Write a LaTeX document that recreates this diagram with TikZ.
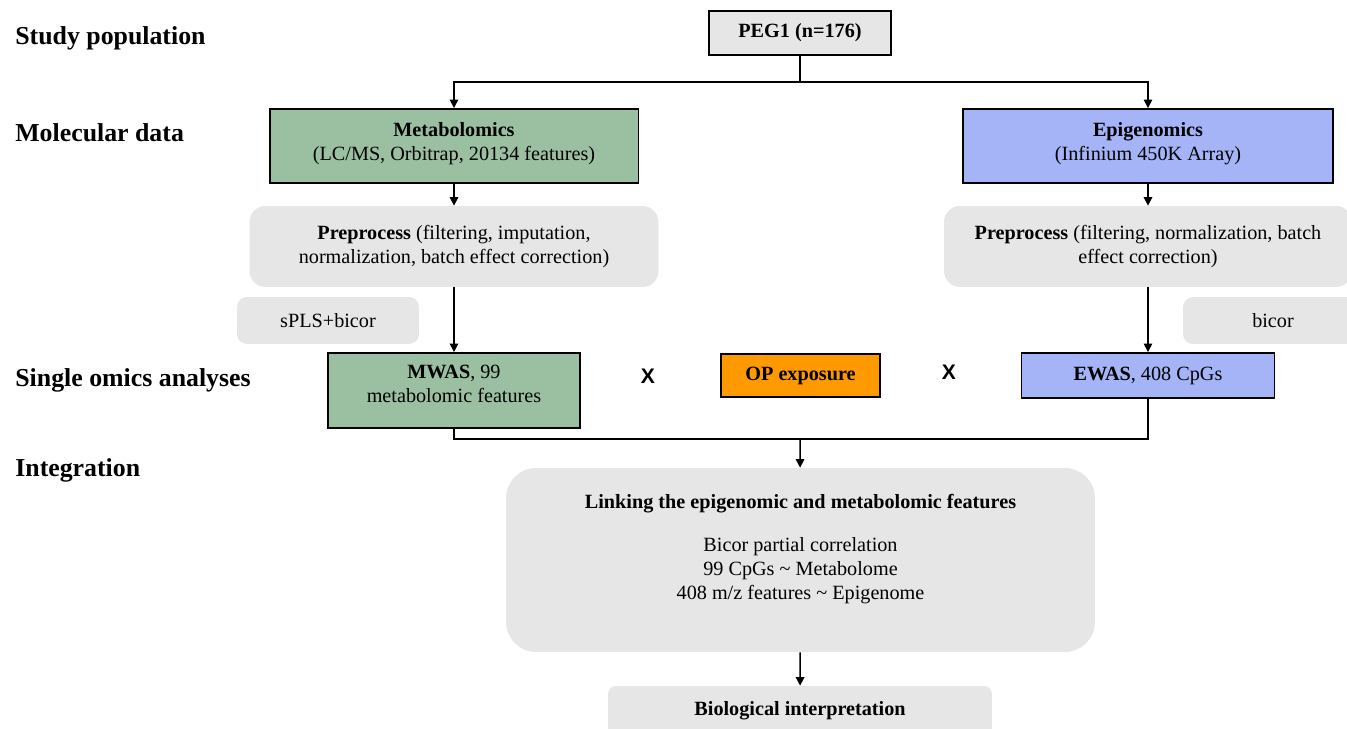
\documentclass[tikz,border=0pt]{standalone}
\usepackage{fontspec}
\setmainfont{Liberation Serif}
\newfontfamily\crossfont{Liberation Sans}
\usepackage{tikz}
\usetikzlibrary{positioning, arrows.meta}
\usepackage{xcolor}
\definecolor{metagreen}{RGB}{155,191,161}
\definecolor{epiblue}{RGB}{164,180,247}
\definecolor{oporange}{RGB}{255,153,0}
\definecolor{boxgray}{RGB}{230,230,230}

\begin{document}
\begin{tikzpicture}[
    x=0.02cm, y=-0.02cm,
    every node/.style={font=\fontsize{11.5}{13.7}\selectfont},
    stage/.style={anchor=west, inner sep=0pt, font=\fontsize{14.7}{17}\selectfont\bfseries},
    databox/.style={draw, line width=1.1pt, align=center, inner sep=2pt},
    softbox/.style={fill=boxgray, rounded corners=0.32cm, align=center, inner sep=2pt},
    cross/.style={inner sep=0pt, font=\fontsize{12}{14}\selectfont\crossfont\bfseries},
    wire/.style={line width=0.85pt},
    arr/.style={wire, -{Triangle[length=4.8pt, width=4.8pt]}},
]

\clip (0,0) rectangle (1347,729);

% --- Stage labels on the left ---------------------------------------
\node[stage] (studypop)  at (15,38)  {Study population};
\node[stage] (moldata)   at (15,133) {Molecular data};
\node[stage] (single)    at (15,380) {Single omics analyses};
\node[stage] (integr)    at (15,470) {Integration};

% --- Study population -----------------------------------------------
\node[databox, fill=boxgray, minimum width=3.64cm, minimum height=0.88cm]
    (peg) at (800,33) {\bfseries PEG1 (n=176)};

% --- Molecular data --------------------------------------------------
\node[databox, fill=metagreen, minimum width=7.38cm, minimum height=1.48cm]
    (metab) at (454,146) {\textbf{Metabolomics}\\(LC/MS, Orbitrap, 20134 features)\\[-9pt]\mbox{}};
\node[databox, fill=epiblue, minimum width=7.4cm, minimum height=1.48cm]
    (epig) at (1148,146) {\textbf{Epigenomics}\\(Infinium 450K Array)\\[-9pt]\mbox{}};

% --- Preprocessing ---------------------------------------------------
\node[softbox, minimum width=8.18cm, minimum height=1.62cm]
    (prepL) at (454,246.5) {\textbf{Preprocess} (filtering, imputation,\\normalization, batch effect correction)};
\node[softbox, minimum width=8.16cm, minimum height=1.62cm]
    (prepR) at (1148,246.5) {\textbf{Preprocess} (filtering, normalization, batch\\effect correction)};

% Methods for the single omics step
\node[softbox, rounded corners=0.2cm, minimum width=3.64cm, minimum height=0.94cm]
    (spls) at (328,320.5) {sPLS+bicor};
\node[softbox, rounded corners=0.2cm, minimum width=3.6cm, minimum height=0.94cm]
    (bicor) at (1273,320.5) {bicor};

% --- Single omics analyses ------------------------------------------
\node[databox, fill=metagreen, minimum width=5.04cm, minimum height=1.5cm]
    (mwas) at (454,390.5) {\textbf{MWAS}, 99\\metabolomic features\\[-6.5pt]\mbox{}};
\node[databox, fill=oporange, minimum width=3.18cm, minimum height=0.86cm]
    (op) at (800.5,375.5) {\bfseries OP exposure};
\node[databox, fill=epiblue, minimum width=5.06cm, minimum height=0.9cm]
    (ewas) at (1148,375.5) {\textbf{EWAS}, 408 CpGs};
\node[cross] (crossL) at (648,376) {X};
\node[cross] (crossR) at (949,372) {X};

% --- Integration -----------------------------------------------------
\node[softbox, rounded corners=0.6cm, minimum width=11.78cm, minimum height=3.68cm]
    (linking) at (800.5,560) {\textbf{Linking the epigenomic and metabolomic features}\\[11pt]
    Bicor partial correlation\\99 CpGs \textasciitilde{} Metabolome\\408 m/z features \textasciitilde{} Epigenome\\[1pt]\mbox{}};
\node[softbox, rounded corners=0.16cm, minimum width=7.68cm, minimum height=1.0cm]
    (bio) at (800,711) {\bfseries Biological interpretation};

% --- Connectors ------------------------------------------------------
\coordinate (split) at (800,82);
\draw[wire] (peg) -- (split);
\draw[arr] (split) -| (metab);
\draw[arr] (split) -| (epig);

\draw[arr] (metab) -- (prepL);
\draw[arr] (epig) -- (prepR);
\draw[arr] (prepL) -- (mwas);
\draw[arr] (prepR) -- (ewas);

\coordinate (merge) at (800,439);
\draw[wire] (mwas) |- (merge) -| (ewas);
\draw[arr] (merge) -- (linking);
\draw[arr] (linking) -- (bio);

\end{tikzpicture}
\end{document}
